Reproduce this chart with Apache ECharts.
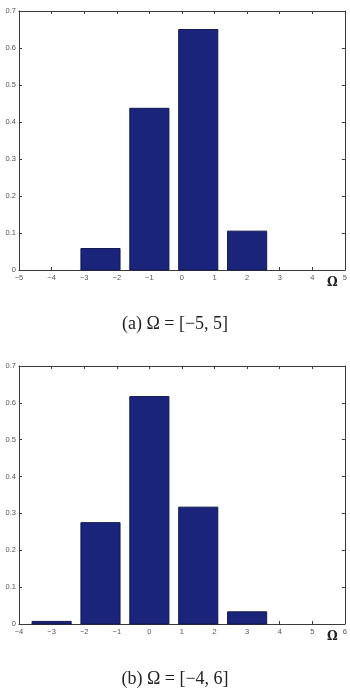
<!DOCTYPE html>
<html>
<head>
<meta charset="utf-8">
<script src="https://cdn.jsdelivr.net/npm/echarts@6/dist/echarts.min.js"></script>
<style>html,body{margin:0;padding:0;background:#fff}#c{width:350px;height:690px}</style>
</head>
<body>
<div id="c"></div>
<script>
// Panel (a): Omega = [-5, 5]
const binsA = [-4, -2.5, -1, 0.5, 2, 3.5];
const valuesA = [0, 0.058, 0.437, 0.650, 0.105, 0];
// Panel (b): Omega = [-4, 6]
const binsB = [-3, -1.5, 0, 1.5, 3, 4.5];
const valuesB = [0.007, 0.275, 0.617, 0.317, 0.033, 0];
const xRangeA = [-5, 5];
const xRangeB = [-4, 6];
const yRange = [0, 0.7];
const captions = ['(a) \u03A9 = [\u22125, 5]', '(b) \u03A9 = [\u22124, 6]'];
const axisName = '\u03A9';

const BAR_HALF = 0.6;
const fmtX = v => v < 0 ? '\u2212' + Math.abs(v) : String(v);
const lineCol = '#3a3a3a';
const labCol = '#555';

function xAxes(g, range) {
  return [
    { type: 'value', gridIndex: g, min: range[0], max: range[1], interval: 1,
      axisLine: { show: true, onZero: false, lineStyle: { color: lineCol, width: 1 } },
      axisTick: { show: true, inside: true, length: 3, lineStyle: { color: lineCol } },
      axisLabel: { show: true, color: labCol, fontSize: 7.5, margin: 4, formatter: fmtX, fontFamily: 'Liberation Sans' },
      splitLine: { show: false },
      name: axisName, nameLocation: 'end', nameGap: -18,
      nameTextStyle: { fontFamily: 'DejaVu Serif', fontWeight: 'bold', fontSize: 12, color: '#222', verticalAlign: 'top', padding: [7, 0, 0, 0] } },
    { type: 'value', gridIndex: g, position: 'top', min: range[0], max: range[1], interval: 1,
      axisLine: { show: true, onZero: false, lineStyle: { color: lineCol, width: 1 } },
      axisTick: { show: true, inside: true, length: 3, lineStyle: { color: lineCol } },
      axisLabel: { show: false }, splitLine: { show: false } }
  ];
}
function yAxes(g) {
  return [
    { type: 'value', gridIndex: g, min: yRange[0], max: yRange[1], interval: 0.1,
      axisLine: { show: true, onZero: false, lineStyle: { color: lineCol, width: 1 } },
      axisTick: { show: true, inside: true, length: 3, lineStyle: { color: lineCol } },
      axisLabel: { show: true, color: labCol, fontSize: 7.5, margin: 3, fontFamily: 'Liberation Sans' },
      splitLine: { show: false } },
    { type: 'value', gridIndex: g, position: 'right', min: yRange[0], max: yRange[1], interval: 0.1,
      axisLine: { show: true, onZero: false, lineStyle: { color: lineCol, width: 1 } },
      axisTick: { show: true, inside: true, length: 3, lineStyle: { color: lineCol } },
      axisLabel: { show: false }, splitLine: { show: false } }
  ];
}
function renderBar(params, api) {
  const x = api.value(0), y = api.value(1);
  if (!y) return null;
  const p1 = api.coord([x - BAR_HALF, y]);
  const p2 = api.coord([x + BAR_HALF, 0]);
  return { type: 'rect', shape: { x: p1[0], y: p1[1], width: p2[0] - p1[0], height: p2[1] - p1[1] },
    style: { fill: '#1b247b', stroke: '#10174f', lineWidth: 1 } };
}

const chart = echarts.init(document.getElementById('c'), null, { renderer: 'canvas' });
chart.setOption({
  animation: false,
  backgroundColor: '#fff',
  title: [
    { text: captions[0], left: 'center', top: 310, textStyle: { fontFamily: 'Liberation Serif', fontWeight: 'normal', fontSize: 18, color: '#222' } },
    { text: captions[1], left: 'center', top: 665, textStyle: { fontFamily: 'Liberation Serif', fontWeight: 'normal', fontSize: 18, color: '#222' } }
  ],
  grid: [
    { left: 19, right: 4, top: 11, height: 259 },
    { left: 19, right: 4, top: 366, height: 258 }
  ],
  xAxis: [...xAxes(0, xRangeA), ...xAxes(1, xRangeB)],
  yAxis: [...yAxes(0), ...yAxes(1)],
  series: [
    { type: 'custom', xAxisIndex: 0, yAxisIndex: 0, renderItem: renderBar,
      data: binsA.map((b, i) => [b, valuesA[i]]) },
    { type: 'custom', xAxisIndex: 2, yAxisIndex: 2, renderItem: renderBar,
      data: binsB.map((b, i) => [b, valuesB[i]]) }
  ]
});
</script>
</body>
</html>
